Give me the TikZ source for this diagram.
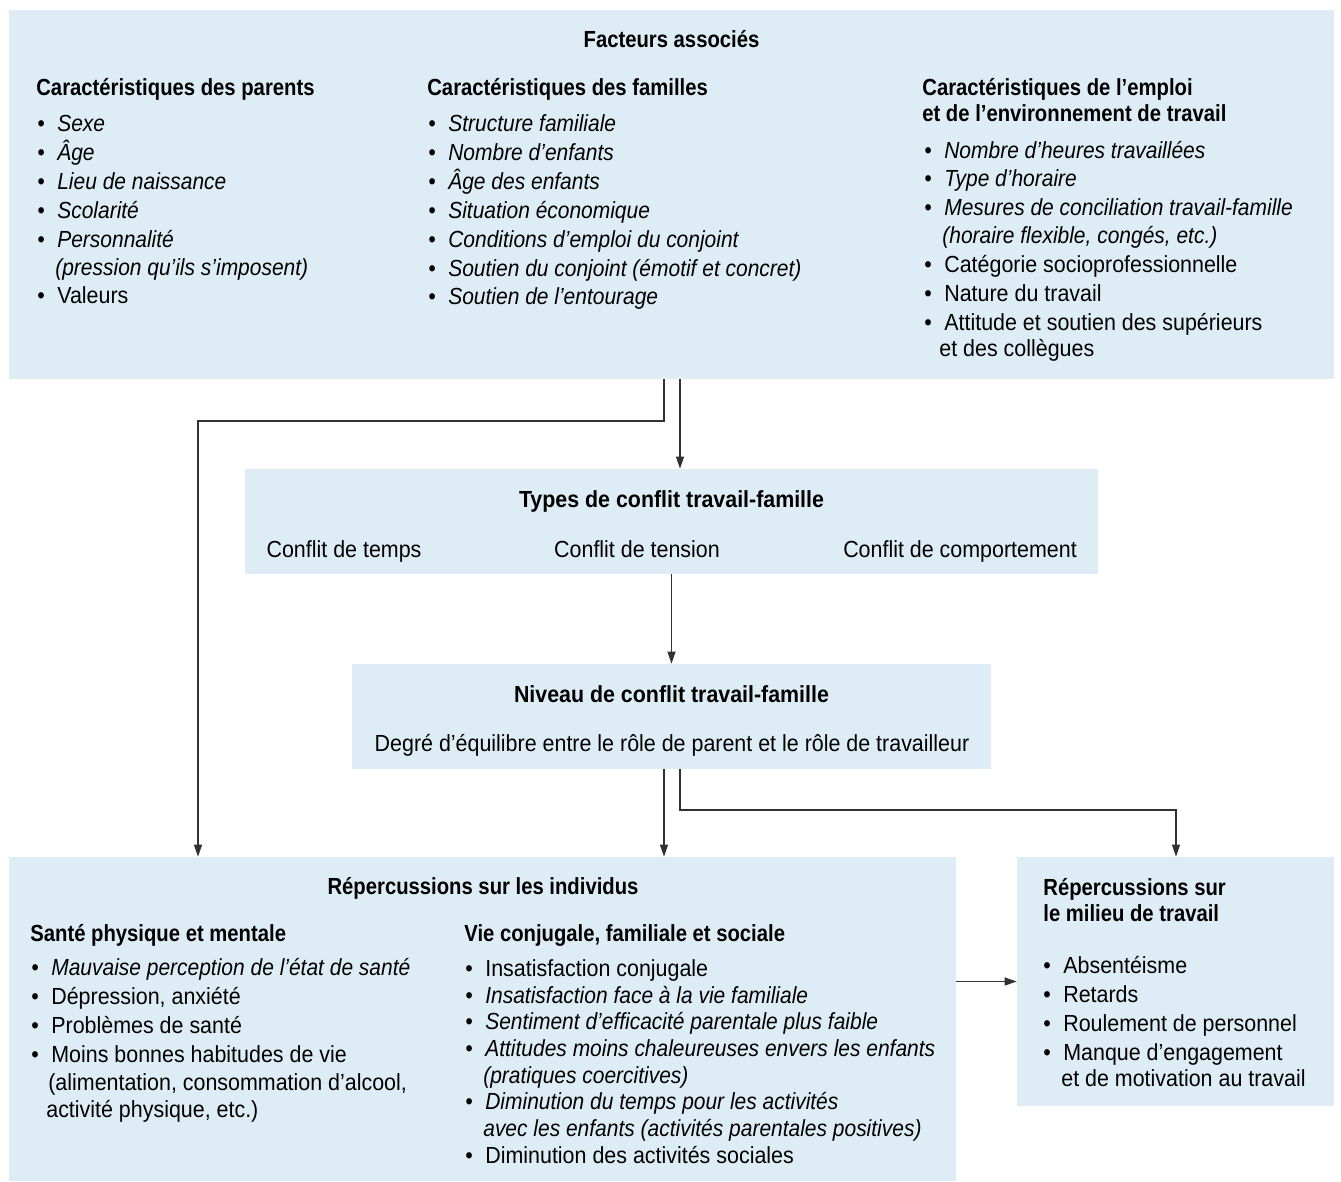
\documentclass[tikz,border=0pt]{standalone}
\usepackage{fontspec}
\usepackage{graphicx}
\setmainfont{Liberation Sans}[UprightFeatures={FakeStretch=0.92},BoldFeatures={FakeStretch=0.87},ItalicFeatures={FakeStretch=0.90}]
\usetikzlibrary{arrows.meta}
\definecolor{boxblue}{RGB}{222,237,245}
\definecolor{linegray}{RGB}{50,50,50}
\newcommand{\fsz}{\fontsize{13.26pt}{16.44pt}\selectfont}
\newcommand{\blt}[1]{\makebox[0.4cm][l]{•}#1}
\newcommand{\cont}{\hspace*{0.36cm}}
\newcommand{\wide}[1]{\scalebox{1.055}[1]{#1}}

\begin{document}
\begin{tikzpicture}[x=0.02cm, y=-0.02cm,
  panel/.style={fill=boxblue, inner sep=0pt},
  ttl/.style={anchor=base, inner sep=0pt, font=\fsz\bfseries},
  hd/.style={anchor=base west, inner sep=0pt, align=left, font=\fsz\bfseries},
  lst/.style={anchor=base west, inner sep=0pt, align=left, font=\fsz},
  plain/.style={anchor=base, inner sep=0pt, font=\fsz},
  link/.style={draw=linegray, line width=0.6pt, -{Triangle[length=2.4mm,width=1.6mm]}}]
\useasboundingbox (0,0) rectangle (1341,1182);

\path (671.5,194.5) node[panel, minimum width=26.5cm, minimum height=7.38cm] (facteurs) {}
      (671.5,521.5) node[panel, minimum width=17.06cm, minimum height=2.1cm] (types) {}
      (671.5,716.5) node[panel, minimum width=12.78cm, minimum height=2.1cm] (niveau) {}
      (482.5,1019) node[panel, minimum width=18.94cm, minimum height=6.48cm] (individus) {}
      (1175.5,981.5) node[panel, minimum width=6.34cm, minimum height=4.98cm] (milieu) {};

\coordinate (coude1) at (198,421);
\coordinate (coude2) at (1176,810);
\draw[link] ([xshift=-0.15cm]facteurs.south) |- (coude1) -- (coude1 |- individus.north);
\draw[link] ([xshift=0.17cm]facteurs.south) -- ([xshift=0.17cm]facteurs.south |- types.north);
\draw[link] (types.south) -- (niveau.north);
\draw[link] ([xshift=-0.15cm]niveau.south) -- ([xshift=-0.15cm]niveau.south |- individus.north);
\draw[link] ([xshift=0.17cm]niveau.south) |- (coude2) -- (coude2 |- milieu.north);
\draw[link] (milieu.west -| individus.east) -- (milieu.west);

\path (671.5,48) node[ttl] (facteurs-t) {Facteurs associés}
      (36,96) node[hd] (parents-h) {Caractéristiques des parents}
      (37,303.3) node[lst] (parents-l) {\textit{\blt{Sexe}}\\
        \textit{\blt{Âge}}\\
        \textit{\blt{Lieu de naissance}}\\
        \textit{\blt{Scolarité}}\\
        \textit{\blt{Personnalité}}\\[-0.7pt]
        \textit{\cont(pression qu’ils s’imposent)}\\[-0.4pt]
        \blt{Valeurs}}
      (427,96) node[hd] (familles-h) {Caractéristiques des familles}
      (428,305) node[lst] (familles-l) {\textit{\blt{Structure familiale}}\\
        \textit{\blt{Nombre d’enfants}}\\
        \textit{\blt{Âge des enfants}}\\
        \textit{\blt{Situation économique}}\\
        \textit{\blt{Conditions d’emploi du conjoint}}\\
        \textit{\blt{Soutien du conjoint (émotif et concret)}}\\
        \textit{\blt{Soutien de l’entourage}}}
      (922,121.7) node[hd] (emploi-h) {Caractéristiques de l’emploi\\[-1.3pt]
        et de l’environnement de travail}
      (924,356.7) node[lst] (emploi-l) {\textit{\blt{Nombre d’heures travaillées}}\\
        \textit{\blt{Type d’horaire}}\\
        \textit{\blt{Mesures de conciliation travail-famille}}\\[-0.7pt]
        \textit{\cont(horaire flexible, congés, etc.)}\\
        \blt{Catégorie socioprofessionnelle}\\
        \blt{Nature du travail}\\
        \blt{Attitude et soutien des supérieurs}\\[-1.3pt]
        \hspace*{0.3cm}et des collègues};

\path (671.5,507) node[ttl] (types-t) {\wide{Types de conflit travail-famille}}
      (344,557) node[plain] (temps) {Conflit de temps}
      (637,557) node[plain] (tension) {Conflit de tension}
      (960,557) node[plain] (comportement) {Conflit de comportement};

\path (671.5,702) node[ttl] (niveau-t) {\wide{Niveau de conflit travail-famille}}
      (672,751) node[plain] (equilibre) {Degré d’équilibre entre le rôle de parent et le rôle de travailleur};

\path (483,894) node[ttl] (individus-t) {Répercussions sur les individus}
      (30,941.7) node[hd] (sante-h) {Santé physique et mentale}
      (31,1117.3) node[lst] (sante-l) {\textit{\blt{Mauvaise perception de l’état de santé}}\\
        \blt{Dépression, anxiété}\\
        \blt{Problèmes de santé}\\
        \blt{Moins bonnes habitudes de vie}\\[-0.4pt]
        \hspace*{0.34cm}(alimentation, consommation d’alcool,\\[-1pt]
        \hspace*{0.3cm}activité physique, etc.)}
      (464,941.7) node[hd] (vie-h) {Vie conjugale, familiale et sociale}
      (465,1163.3) node[lst, font={\fontsize{13.26pt}{15.18pt}\selectfont}] (vie-l) {\blt{Insatisfaction conjugale}\\
        \textit{\blt{Insatisfaction face à la vie familiale}}\\
        \textit{\blt{Sentiment d’efficacité parentale plus faible}}\\
        \textit{\blt{Attitudes moins chaleureuses envers les enfants}}\\
        \textit{\cont(pratiques coercitives)}\\
        \textit{\blt{Diminution du temps pour les activités}}\\
        \textit{\cont avec les enfants (activités parentales positives)}\\
        \blt{Diminution des activités sociales}};

\path (1043,921.7) node[hd] (milieu-h) {Répercussions sur\\[-1.3pt]
        le milieu de travail}
      (1043,1086) node[lst] (milieu-l) {\blt{Absentéisme}\\
        \blt{Retards}\\
        \blt{Roulement de personnel}\\
        \blt{Manque d’engagement}\\[-1.7pt]
        \cont et de motivation au travail};
\end{tikzpicture}
\end{document}
